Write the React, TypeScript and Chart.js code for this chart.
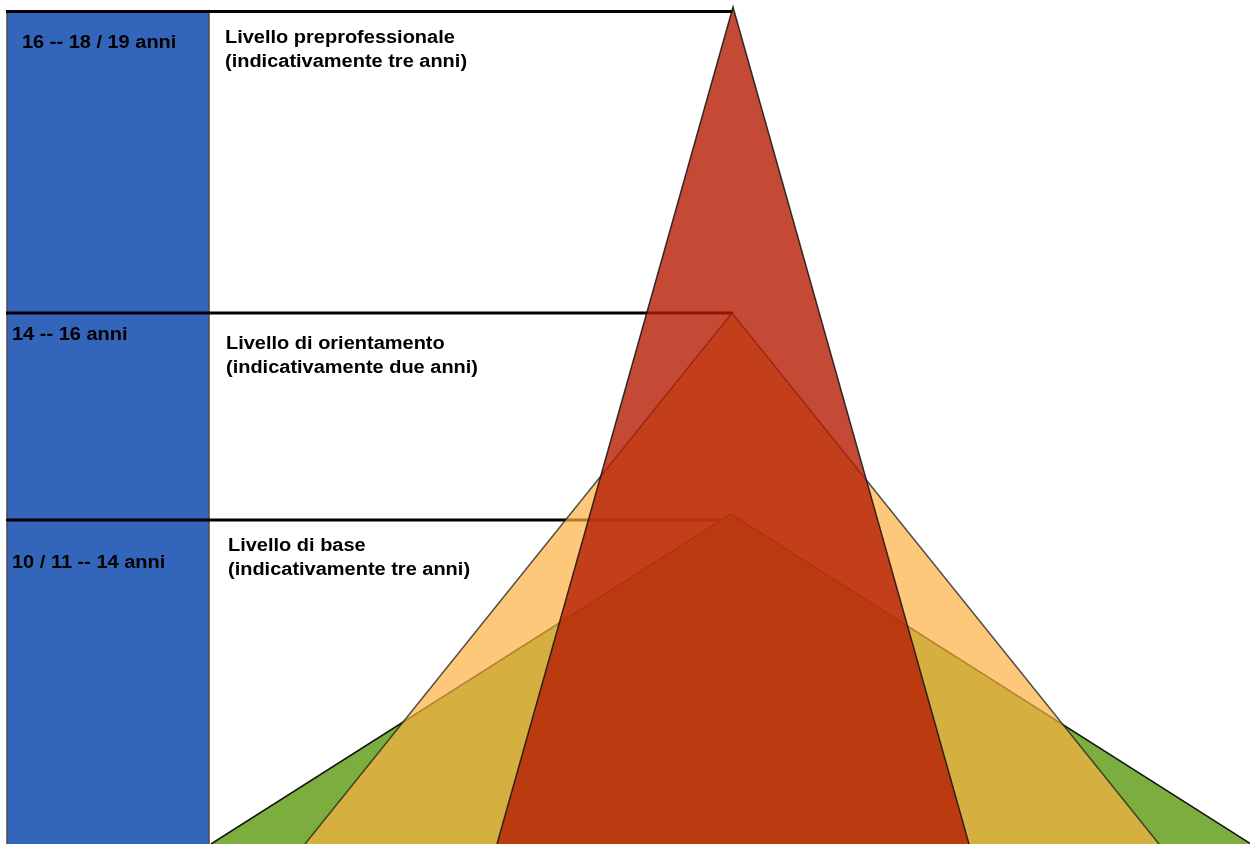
import React, { useEffect, useRef } from "react";
import { Chart, registerables } from "chart.js";

Chart.register(...registerables);

// Axis extents (diagram units)
const X_MAX = 1250;
const Y_MAX = 844;

// Levels, from bottom to top
const levels = ["Livello di base", "Livello di orientamento", "Livello preprofessionale"];
const ageRanges = ["10 / 11 -- 14 anni", "14 -- 16 anni", "16 -- 18 / 19 anni"];
const durations = ["(indicativamente tre anni)", "(indicativamente due anni)", "(indicativamente tre anni)"];

// Pyramid triangles (one per level): apex height, apex centre, half-width at base
const apexHeights = [330, 531, 837];
const apexCenters = [731, 732, 733];
const baseHalfWidths = [520, 427, 236];

// Horizontal level separators: height and right end
const levelLineHeights = [324, 531, 832.5];
const levelLineEnds = [743, 733, 733];
const levelLineStart = 6;

// Age column
const ageColumn = { left: 7, right: 209, top: 832 };

// Text anchor points (diagram units)
const ageLabelX = [12, 12, 22];
const ageLabelY = [276.5, 504, 796.5];
const titleX = [228, 226, 225];
const titleY = [293.5, 495, 801];
const durationY = [269.5, 471.5, 777.5];

const triangleFills = ["rgb(123,174,62)", "rgba(252,176,65,0.7)", "rgba(181,29,4,0.8)"];
const triangleBorders = ["rgba(10,10,10,0.95)", "rgba(30,30,30,0.75)", "rgba(20,20,20,0.85)"];

const textPlugin = {
  id: "levelTexts",
  afterDatasetsDraw(chart: any) {
    const { ctx, scales } = chart;
    const sx = scales.x;
    const sy = scales.y;
    const draw = (t: string, x: number, y: number) => {
      ctx.save();
      ctx.translate(sx.getPixelForValue(x), sy.getPixelForValue(y));
      ctx.scale(1.11, 1);
      ctx.fillText(t, 0, 0);
      ctx.restore();
    };
    ctx.save();
    ctx.fillStyle = "#000";
    ctx.font = "bold 18px 'Liberation Sans', Arial, sans-serif";
    ctx.textBaseline = "alphabetic";
    ctx.textAlign = "left";
    for (let i = 0; i < levels.length; i++) {
      draw(ageRanges[i], ageLabelX[i], ageLabelY[i]);
      draw(levels[i], titleX[i], titleY[i]);
      draw(durations[i], titleX[i], durationY[i]);
    }
    ctx.restore();
  },
};

export default function App() {
  const ref = useRef<HTMLCanvasElement>(null);

  useEffect(() => {
    if (!ref.current) return;
    const datasets: any[] = [];

    // triangles (red on top)
    for (let i = levels.length - 1; i >= 0; i--) {
      datasets.push({
        label: levels[i],
        data: [
          { x: apexCenters[i] - baseHalfWidths[i], y: 0 },
          { x: apexCenters[i], y: apexHeights[i] },
          { x: apexCenters[i] + baseHalfWidths[i], y: 0 },
        ],
        showLine: true,
        fill: "origin",
        backgroundColor: triangleFills[i],
        borderColor: triangleBorders[i],
        borderWidth: 1.5,
        pointRadius: 0,
        tension: 0,
        order: levels.length - 1 - i,
      });
    }

    // level separators
    for (let i = 0; i < levelLineHeights.length; i++) {
      datasets.push({
        label: "sep" + i,
        data: [
          { x: levelLineStart, y: levelLineHeights[i] },
          { x: levelLineEnds[i], y: levelLineHeights[i] },
        ],
        showLine: true,
        fill: false,
        borderColor: "#000",
        borderWidth: 3,
        pointRadius: 0,
        order: 5,
      });
    }

    // age column
    datasets.push({
      label: "age",
      data: [
        { x: ageColumn.left, y: 0 },
        { x: ageColumn.left, y: ageColumn.top },
        { x: ageColumn.right, y: ageColumn.top },
        { x: ageColumn.right, y: 0 },
      ],
      showLine: true,
      fill: "origin",
      backgroundColor: "rgb(51,102,187)",
      borderColor: "#4a4a4a",
      borderWidth: 1.5,
      pointRadius: 0,
      order: 10,
    });

    const chart = new Chart(ref.current, {
      type: "scatter",
      data: { datasets },
      options: {
        animation: false,
        responsive: false,
        devicePixelRatio: 1,
        layout: { padding: 0 },
        plugins: { legend: { display: false }, tooltip: { enabled: false }, title: { display: false } },
        events: [],
        scales: {
          x: { type: "linear", min: 0, max: X_MAX, display: false },
          y: { type: "linear", min: 0, max: Y_MAX, display: false },
        },
        elements: { line: { tension: 0 } },
      } as any,
      plugins: [textPlugin],
    });
    return () => chart.destroy();
  }, []);

  return (
    <div style={{ position: "fixed", left: 0, top: 0, width: 1250, height: 844, background: "#fff" }}>
      <canvas ref={ref} width={1250} height={844} style={{ display: "block" }} />
    </div>
  );
}
